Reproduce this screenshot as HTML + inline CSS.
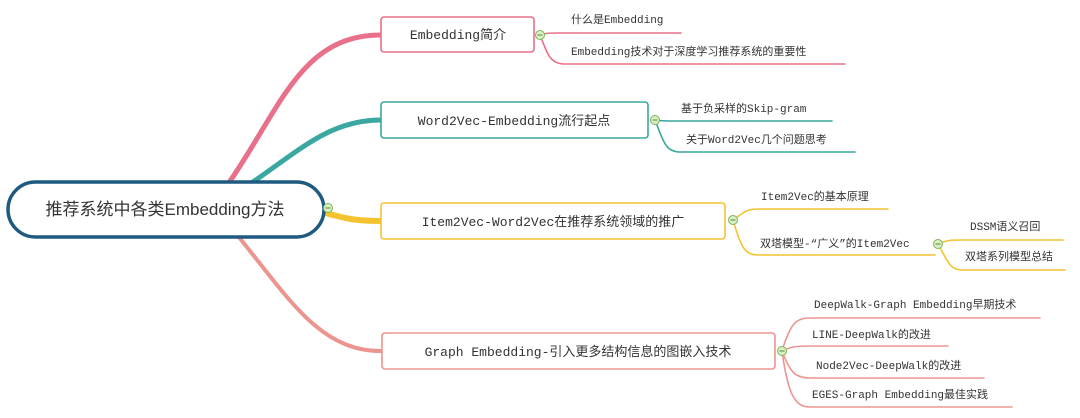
<!DOCTYPE html>
<html><head><meta charset="utf-8"><style>
html,body{margin:0;padding:0;background:#fff;}
svg{display:block;}
text{font-family:"Liberation Mono","Noto Sans CJK SC",monospace;fill:#333;}
.r{font-family:"Liberation Sans","Noto Sans CJK SC",sans-serif;}
</style></head><body>
<svg width="1080" height="418" viewBox="0 0 1080 418" xmlns="http://www.w3.org/2000/svg">
<g fill="none" stroke-linecap="round">
<path d="M228,184 C280,110 300,35 381,35" stroke="#e8708a" stroke-width="5"/>
<path d="M250,184 C300,150 330,120 381,120" stroke="#3aa8a0" stroke-width="5"/>
<path d="M322,212 C350,220 360,221 381,221" stroke="#f5c230" stroke-width="6"/>
<path d="M238,236 C290,300 320,351 381,351" stroke="#ec9590" stroke-width="4"/>
<path d="M540,35 C545,33 550,33 560,33 L681,33" stroke="#e8708a" stroke-width="1.6"/>
<path d="M540,35 C548,55 550,64 565,64 L845,64" stroke="#e8708a" stroke-width="1.6"/>
<path d="M655,120 C660,121 665,121 675,121 L832,121" stroke="#3aa8a0" stroke-width="1.6"/>
<path d="M655,120 C663,140 665,152 680,152 L855,152" stroke="#3aa8a0" stroke-width="1.6"/>
<path d="M733,220 C745,212 745,209 760,209 L888,209" stroke="#f5c230" stroke-width="1.6"/>
<path d="M733,220 C742,250 745,255 760,255 L935,255" stroke="#f5c230" stroke-width="1.6"/>
<path d="M938,244 C948,240 950,240 962,240 L1063,240" stroke="#f5c230" stroke-width="1.6"/>
<path d="M938,244 C948,262 950,270 962,270 L1065,270" stroke="#f5c230" stroke-width="1.6"/>
<path d="M782,351 C790,325 795,318 810,318 L1040,318" stroke="#ec9590" stroke-width="1.6"/>
<path d="M782,351 C790,347 795,346 810,346 L948,346" stroke="#ec9590" stroke-width="1.6"/>
<path d="M782,351 C790,372 795,378 810,378 L984,378" stroke="#ec9590" stroke-width="1.6"/>
<path d="M782,351 C788,395 795,407 810,407 L1012,407" stroke="#ec9590" stroke-width="1.6"/>
</g>
<rect x="8" y="182" width="316" height="55" rx="27.5" fill="#fff" stroke="#1f5a80" stroke-width="3.5"/>
<text class="r" x="165" y="215" font-size="17" text-anchor="middle" fill="#555">推荐系统中各类Embedding方法</text>
<rect x="381" y="17" width="153" height="35" rx="3" fill="#fff" stroke="#e8708a" stroke-width="1.6"/>
<text x="458" y="39" font-size="13" text-anchor="middle">Embedding简介</text>
<rect x="381" y="102" width="267" height="36" rx="3" fill="#fff" stroke="#3aa8a0" stroke-width="1.6"/>
<text x="514" y="125" font-size="13" text-anchor="middle">Word2Vec-Embedding流行起点</text>
<rect x="381" y="203" width="344" height="36" rx="3" fill="#fff" stroke="#f5c230" stroke-width="1.6"/>
<text x="553" y="226" font-size="13" text-anchor="middle">Item2Vec-Word2Vec在推荐系统领域的推广</text>
<rect x="382" y="333" width="393" height="36" rx="3" fill="#fff" stroke="#ec9590" stroke-width="1.6"/>
<text x="578" y="356" font-size="13" text-anchor="middle">Graph Embedding-引入更多结构信息的图嵌入技术</text>
<g font-size="11">
<text x="571" y="23">什么是Embedding</text>
<text x="571" y="55">Embedding技术对于深度学习推荐系统的重要性</text>
<text x="681" y="112">基于负采样的Skip-gram</text>
<text x="686" y="143">关于Word2Vec几个问题思考</text>
<text x="761" y="200">Item2Vec的基本原理</text>
<text x="760" y="247">双塔模型-“广义”的Item2Vec</text>
<text x="970" y="230">DSSM语义召回</text>
<text x="965" y="260">双塔系列模型总结</text>
<text x="814" y="308">DeepWalk-Graph Embedding早期技术</text>
<text x="812" y="338">LINE-DeepWalk的改进</text>
<text x="816" y="369">Node2Vec-DeepWalk的改进</text>
<text x="812" y="398">EGES-Graph Embedding最佳实践</text>
</g>
<g fill="#d8efc4" stroke="#7fb35a" stroke-width="1">
<circle cx="328" cy="208" r="4.5"/><circle cx="540" cy="35" r="4.5"/><circle cx="655" cy="120" r="4.5"/>
<circle cx="733" cy="220" r="4.5"/><circle cx="938" cy="244" r="4.5"/><circle cx="782" cy="351" r="4.5"/>
</g>
<g stroke="#5a8a3a" stroke-width="1">
<path d="M325.5,208h5M537.5,35h5M652.5,120h5M730.5,220h5M935.5,244h5M779.5,351h5"/>
</g>
</svg>
</body></html>
